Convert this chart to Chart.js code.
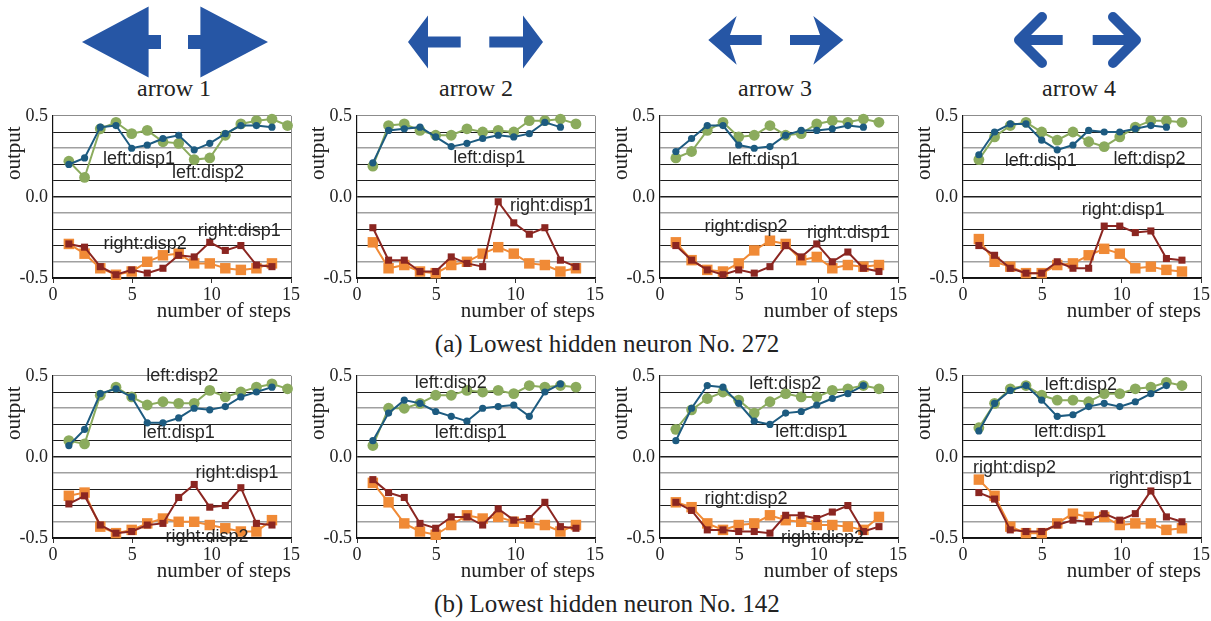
<!DOCTYPE html>
<html>
<head>
<meta charset="utf-8">
<script src="https://cdn.jsdelivr.net/npm/chart.js@4.4.1/dist/chart.umd.min.js"></script>
<style>
  body { margin: 0; background: #fff; width: 1211px; height: 621px; position: relative; overflow: hidden; }
  svg.deco { position: absolute; left: 0; top: 0; }
  .panel { position: absolute; width: 301px; height: 228px; }
</style>
</head>
<body>
<svg class="deco" width="1211" height="621" font-family="'Liberation Serif', 'Times New Roman', serif" fill="#222">
  <g fill="#2656a5">
    <polygon points="82,42 148.6,6.5 148.6,35 161,35 161,49 148.6,49 148.6,77.5"/>
    <polygon points="188,35 200.4,35 200.4,6.5 268,42 200.4,77.5 200.4,49 188,49"/>
    <polygon points="408,42 428,15.5 428,36.6 460.7,36.6 460.7,47.4 428,47.4 428,68.5"/>
    <polygon points="489.3,36.6 523,36.6 523,15.5 543,42 523,68.5 523,47.4 489.3,47.4"/>
    <polygon points="708.3,40 736.7,16 730,35 761.7,35 761.7,45 730,45 736.7,64.7"/>
    <polygon points="790,35 820,35 813.3,16 843.3,40 813.3,64.7 820,45 790,45"/>
  </g>
  <g stroke="#2656a5" stroke-width="10" fill="none">
    <polyline points="1042,17 1019,40 1042,63" stroke-linecap="round" stroke-linejoin="round"/>
    <line x1="1019" y1="40" x2="1062.7" y2="40"/>
    <polyline points="1113,17 1136,40 1113,63" stroke-linecap="round" stroke-linejoin="round"/>
    <line x1="1092.7" y1="40" x2="1136" y2="40"/>
  </g>
  <g font-size="24" text-anchor="middle">
    <text x="174" y="96">arrow 1</text>
    <text x="476" y="96">arrow 2</text>
    <text x="775" y="96">arrow 3</text>
    <text x="1079" y="96">arrow 4</text>
  </g>
  <g font-size="25" text-anchor="middle">
    <text x="607" y="352">(a) Lowest hidden neuron No. 272</text>
    <text x="607" y="612">(b) Lowest hidden neuron No. 142</text>
  </g>
</svg>

<div class="panel" style="left:0px;top:100px"><canvas id="a1"></canvas></div>
<div class="panel" style="left:304px;top:100px"><canvas id="a2"></canvas></div>
<div class="panel" style="left:607px;top:100px"><canvas id="a3"></canvas></div>
<div class="panel" style="left:910px;top:100px"><canvas id="a4"></canvas></div>
<div class="panel" style="left:0px;top:360px"><canvas id="b1"></canvas></div>
<div class="panel" style="left:304px;top:360px"><canvas id="b2"></canvas></div>
<div class="panel" style="left:607px;top:360px"><canvas id="b3"></canvas></div>
<div class="panel" style="left:910px;top:360px"><canvas id="b4"></canvas></div>

<script>
// step positions
const steps = [1, 1.99, 2.98, 3.97, 4.96, 5.94, 6.93, 7.92, 8.9, 9.88, 10.86, 11.84, 12.82, 13.8, 14.78];
const xTicks = [0, 5, 10, 15];
const yTicks = [-0.5, 0, 0.5];

// (a) neuron 272
const a1_left1 = [0.20, 0.24, 0.43, 0.44, 0.30, 0.32, 0.36, 0.38, 0.29, 0.33, 0.39, 0.44, 0.44, 0.43];
const a1_left2 = [0.22, 0.12, 0.42, 0.46, 0.39, 0.41, 0.34, 0.33, 0.23, 0.24, 0.38, 0.45, 0.47, 0.48, 0.44];
const a1_right1 = [-0.29, -0.31, -0.43, -0.48, -0.45, -0.47, -0.44, -0.36, -0.37, -0.28, -0.33, -0.30, -0.42, -0.43];
const a1_right2 = [-0.29, -0.35, -0.44, -0.48, -0.46, -0.40, -0.36, -0.35, -0.41, -0.41, -0.44, -0.45, -0.44, -0.41];

const a2_left1 = [0.21, 0.41, 0.42, 0.43, 0.37, 0.31, 0.33, 0.36, 0.38, 0.37, 0.39, 0.46, 0.43];
const a2_left2 = [0.19, 0.44, 0.45, 0.41, 0.38, 0.38, 0.42, 0.40, 0.41, 0.40, 0.47, 0.47, 0.48, 0.45];
const a2_right1 = [-0.19, -0.39, -0.39, -0.46, -0.46, -0.37, -0.41, -0.43, -0.03, -0.16, -0.23, -0.19, -0.39, -0.43];
const a2_right2 = [-0.28, -0.44, -0.42, -0.46, -0.47, -0.42, -0.40, -0.35, -0.31, -0.35, -0.41, -0.42, -0.46, -0.44];

const a3_left1 = [0.28, 0.36, 0.44, 0.44, 0.32, 0.30, 0.31, 0.38, 0.41, 0.41, 0.42, 0.44, 0.43];
const a3_left2 = [0.24, 0.28, 0.41, 0.46, 0.37, 0.38, 0.44, 0.38, 0.39, 0.45, 0.47, 0.46, 0.48, 0.46];
const a3_right1 = [-0.30, -0.39, -0.45, -0.48, -0.45, -0.47, -0.43, -0.30, -0.37, -0.29, -0.40, -0.34, -0.44, -0.46];
const a3_right2 = [-0.28, -0.39, -0.45, -0.46, -0.41, -0.33, -0.27, -0.29, -0.39, -0.37, -0.44, -0.42, -0.43, -0.42];

const a4_left1 = [0.26, 0.40, 0.45, 0.45, 0.35, 0.29, 0.32, 0.41, 0.40, 0.40, 0.42, 0.44, 0.43];
const a4_left2 = [0.23, 0.37, 0.44, 0.46, 0.40, 0.35, 0.40, 0.34, 0.31, 0.37, 0.43, 0.47, 0.47, 0.46];
const a4_right1 = [-0.30, -0.36, -0.44, -0.47, -0.47, -0.40, -0.44, -0.44, -0.18, -0.18, -0.22, -0.21, -0.38, -0.39];
const a4_right2 = [-0.26, -0.40, -0.43, -0.47, -0.47, -0.42, -0.41, -0.36, -0.32, -0.35, -0.44, -0.43, -0.45, -0.46];

// (b) neuron 142
const b1_left1 = [0.07, 0.17, 0.39, 0.42, 0.37, 0.21, 0.21, 0.24, 0.30, 0.29, 0.31, 0.37, 0.40, 0.43];
const b1_left2 = [0.10, 0.08, 0.38, 0.43, 0.37, 0.32, 0.34, 0.33, 0.33, 0.41, 0.37, 0.40, 0.43, 0.45, 0.42];
const b1_right1 = [-0.29, -0.24, -0.42, -0.47, -0.46, -0.42, -0.41, -0.25, -0.17, -0.31, -0.30, -0.19, -0.41, -0.42];
const b1_right2 = [-0.24, -0.22, -0.43, -0.47, -0.45, -0.41, -0.38, -0.40, -0.40, -0.42, -0.44, -0.46, -0.46, -0.39];

const b2_left1 = [0.10, 0.27, 0.35, 0.33, 0.28, 0.25, 0.22, 0.30, 0.31, 0.32, 0.25, 0.40, 0.45];
const b2_left2 = [0.07, 0.30, 0.30, 0.33, 0.38, 0.38, 0.41, 0.40, 0.41, 0.39, 0.44, 0.43, 0.44, 0.43];
const b2_right1 = [-0.14, -0.22, -0.25, -0.41, -0.44, -0.37, -0.37, -0.42, -0.32, -0.39, -0.38, -0.28, -0.43, -0.44];
const b2_right2 = [-0.16, -0.28, -0.41, -0.46, -0.48, -0.42, -0.36, -0.38, -0.37, -0.40, -0.41, -0.42, -0.46, -0.42];

const b3_left1 = [0.10, 0.30, 0.44, 0.43, 0.33, 0.22, 0.20, 0.27, 0.28, 0.32, 0.36, 0.39, 0.44];
const b3_left2 = [0.17, 0.29, 0.36, 0.40, 0.35, 0.27, 0.34, 0.39, 0.37, 0.37, 0.41, 0.42, 0.44, 0.42];
const b3_right1 = [-0.28, -0.33, -0.45, -0.45, -0.46, -0.46, -0.47, -0.36, -0.36, -0.38, -0.34, -0.30, -0.46, -0.43];
const b3_right2 = [-0.28, -0.31, -0.41, -0.45, -0.42, -0.41, -0.36, -0.39, -0.40, -0.42, -0.42, -0.43, -0.45, -0.37];

const b4_left1 = [0.16, 0.33, 0.41, 0.44, 0.35, 0.25, 0.26, 0.31, 0.33, 0.31, 0.34, 0.39, 0.44];
const b4_left2 = [0.18, 0.33, 0.42, 0.44, 0.38, 0.35, 0.35, 0.34, 0.39, 0.39, 0.42, 0.43, 0.46, 0.44];
const b4_right1 = [-0.22, -0.26, -0.45, -0.46, -0.46, -0.42, -0.39, -0.40, -0.35, -0.39, -0.35, -0.21, -0.37, -0.40];
const b4_right2 = [-0.14, -0.24, -0.43, -0.47, -0.47, -0.41, -0.35, -0.37, -0.37, -0.42, -0.41, -0.41, -0.45, -0.44];

// in-plot labels: [text, step, output]
const a1_notes = [["left:disp1", 3.15, 0.234], ["left:disp2", 7.5, 0.146], ["right:disp2", 3.19, -0.289], ["right:disp1", 9.12, -0.211]];
const a2_notes = [["left:disp1", 6.06, 0.24], ["right:disp1", 9.64, -0.059]];
const a3_notes = [["left:disp1", 4.28, 0.227], ["right:disp2", 2.8, -0.186], ["right:disp1", 9.27, -0.223]];
const a4_notes = [["left:disp1", 2.63, 0.223], ["left:disp2", 9.48, 0.234], ["right:disp1", 7.48, -0.084]];
const b1_notes = [["left:disp2", 5.87, 0.496], ["left:disp1", 5.66, 0.145], ["right:disp1", 8.98, -0.10], ["right:disp2", 7.09, -0.494]];
const b2_notes = [["left:disp2", 3.64, 0.453], ["left:disp1", 4.9, 0.145]];
const b3_notes = [["left:disp2", 5.62, 0.449], ["left:disp1", 7.27, 0.152], ["right:disp2", 2.8, -0.258], ["right:disp2", 7.63, -0.498]];
const b4_notes = [["left:disp2", 5.16, 0.445], ["left:disp1", 4.49, 0.152], ["right:disp2", 0.63, -0.068], ["right:disp1", 9.2, -0.139]];

const BLUE = "#1d5b80";
const GREEN = "#8bab5d";
const DARKRED = "#8b2621";
const ORANGE = "#f08a36";
const SERIF = "'Liberation Serif', 'Times New Roman', serif";

const toPoints = (vals) => vals.map((v, i) => ({ x: steps[i], y: v }));
const near = (a, b) => Math.abs(a - b) < 1e-6;
const grayRows = [0.3, -0.1, -0.4];

// draws the "left:disp1" style labels at data positions
const notesPlugin = {
	id: "notes",
	afterDraw(chart, args, opts) {
		const { ctx, scales } = chart;
		ctx.save();
		ctx.font = "18px 'Liberation Sans', Arial, sans-serif";
		ctx.fillStyle = "#262626";
		ctx.textAlign = "left";
		ctx.textBaseline = "middle";
		for (const [text, sx, sy] of opts.items) {
			ctx.fillText(text, scales.x.getPixelForValue(sx), scales.y.getPixelForValue(sy));
		}
		ctx.restore();
	},
};

const lineSet = (label, vals, color, style, radius, order) => ({
	label,
	data: toPoints(vals),
	borderColor: color,
	backgroundColor: color,
	borderWidth: 2,
	pointStyle: style,
	pointRadius: radius,
	pointBackgroundColor: color,
	pointBorderWidth: 0,
	tension: 0,
	order,
	clip: false,
});

function makePanel(id, left1, left2, right1, right2, notes) {
	new Chart(document.getElementById(id), {
		type: "line",
		data: {
			datasets: [
				lineSet("left:disp1", left1, BLUE, "circle", 3.6, 0),
				lineSet("right:disp1", right1, DARKRED, "rect", 5, 1),
				lineSet("left:disp2", left2, GREEN, "circle", 5.4, 2),
				lineSet("right:disp2", right2, ORANGE, "rect", 7.4, 3),
			],
		},
		options: {
			responsive: true,
			maintainAspectRatio: false,
			animation: false,
			events: [],
			layout: { padding: { top: 15, right: 9, left: 0, bottom: 0 } },
			plugins: {
				legend: { display: false },
				tooltip: { enabled: false },
				notes: { items: notes },
			},
			scales: {
				x: {
					type: "linear",
					min: 0,
					max: 15,
					afterFit: (s) => { s.height = 50; },
					afterBuildTicks: (s) => { s.ticks = xTicks.map((v) => ({ value: v })); },
					ticks: { font: { family: SERIF, size: 18 }, color: "#222", padding: 1, maxRotation: 0 },
					grid: {
						drawOnChartArea: true,
						color: (c) => (c.tick && c.tick.value === 15 ? "#8c8c8c" : "rgba(0,0,0,0)"),
						tickColor: "#333",
						tickLength: 5,
						lineWidth: 1,
					},
					border: { color: "#111", width: 1.2 },
					title: {
						display: true,
						text: "number of steps",
						align: "end",
						font: { family: SERIF, size: 21 },
						color: "#222",
						padding: { top: 0, bottom: 4 },
					},
				},
				y: {
					min: -0.5,
					max: 0.5,
					afterFit: (s) => { s.width = 53; },
					ticks: {
						stepSize: 0.1,
						autoSkip: false,
						font: { family: SERIF, size: 18 },
						color: "#222",
						padding: 5,
						callback: (v) => (yTicks.some((t) => near(t, v)) ? Number(v).toFixed(1) : ""),
					},
					grid: {
						drawTicks: false,
						color: (c) => {
							const v = Math.round(c.tick.value * 10) / 10;
							if (v === 0.5) return "#8c8c8c";
							return grayRows.includes(v) ? "#a0a0a0" : "#1e1e1e";
						},
						lineWidth: (c) => {
							const v = Math.round(c.tick.value * 10) / 10;
							if (v === 0) return 1.6;
							return grayRows.includes(v) ? 1.6 : 1;
						},
					},
					border: { color: "#111", width: 1.2 },
					title: {
						display: true,
						text: "output  ",
						align: "end",
						font: { family: SERIF, size: 21 },
						color: "#222",
						padding: { top: 2, bottom: 0 },
					},
				},
			},
		},
		plugins: [notesPlugin],
	});
}

makePanel("a1", a1_left1, a1_left2, a1_right1, a1_right2, a1_notes);
makePanel("a2", a2_left1, a2_left2, a2_right1, a2_right2, a2_notes);
makePanel("a3", a3_left1, a3_left2, a3_right1, a3_right2, a3_notes);
makePanel("a4", a4_left1, a4_left2, a4_right1, a4_right2, a4_notes);
makePanel("b1", b1_left1, b1_left2, b1_right1, b1_right2, b1_notes);
makePanel("b2", b2_left1, b2_left2, b2_right1, b2_right2, b2_notes);
makePanel("b3", b3_left1, b3_left2, b3_right1, b3_right2, b3_notes);
makePanel("b4", b4_left1, b4_left2, b4_right1, b4_right2, b4_notes);
</script>
</body>
</html>
